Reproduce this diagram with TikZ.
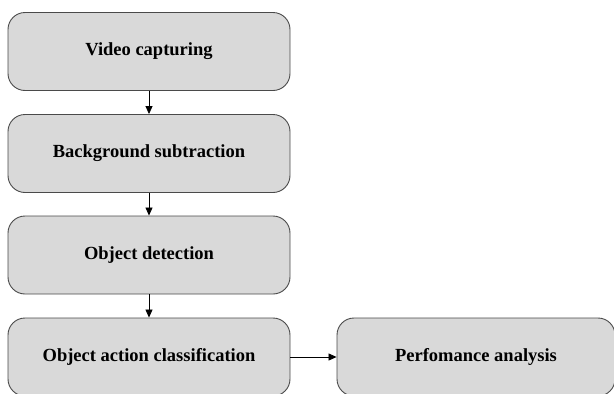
\documentclass[tikz,border=0pt]{standalone}
\usepackage{fontspec}
\setmainfont{Liberation Serif}
\usetikzlibrary{arrows.meta}
\definecolor{boxfill}{HTML}{D9D9D9}
\definecolor{boxline}{HTML}{4A4A4A}
\begin{document}
\begin{tikzpicture}[x=1pt,y=-1pt,
  stage/.style={draw=boxline,fill=boxfill,line width=0.9pt,rounded corners=17pt,
    minimum width=282pt,minimum height=78pt,inner sep=0pt,
    font=\fontsize{18.5}{22}\selectfont\bfseries},
  flow/.style={draw=black,line width=0.8pt,-{Triangle[length=8pt,width=7pt]}}]
\useasboundingbox (0,0) rectangle (614,394);
\begin{scope}
\clip (0,0) rectangle (614,394);
\node[stage] (vc) at (149,51.5) {Video capturing};
\node[stage] (bs) at (149,153.5) {Background subtraction};
\node[stage] (od) at (149,255) {Object detection};
\node[stage] (oa) at (149,357) {Object action classification};
\node[stage,minimum width=278pt] (pa) at (476,357) {Perfomance analysis};
\draw[flow] (vc) -- (bs);
\draw[flow] (bs) -- (od);
\draw[flow] (od) -- (oa);
\draw[flow] (oa) -- (pa);
\end{scope}
\end{tikzpicture}
\end{document}
